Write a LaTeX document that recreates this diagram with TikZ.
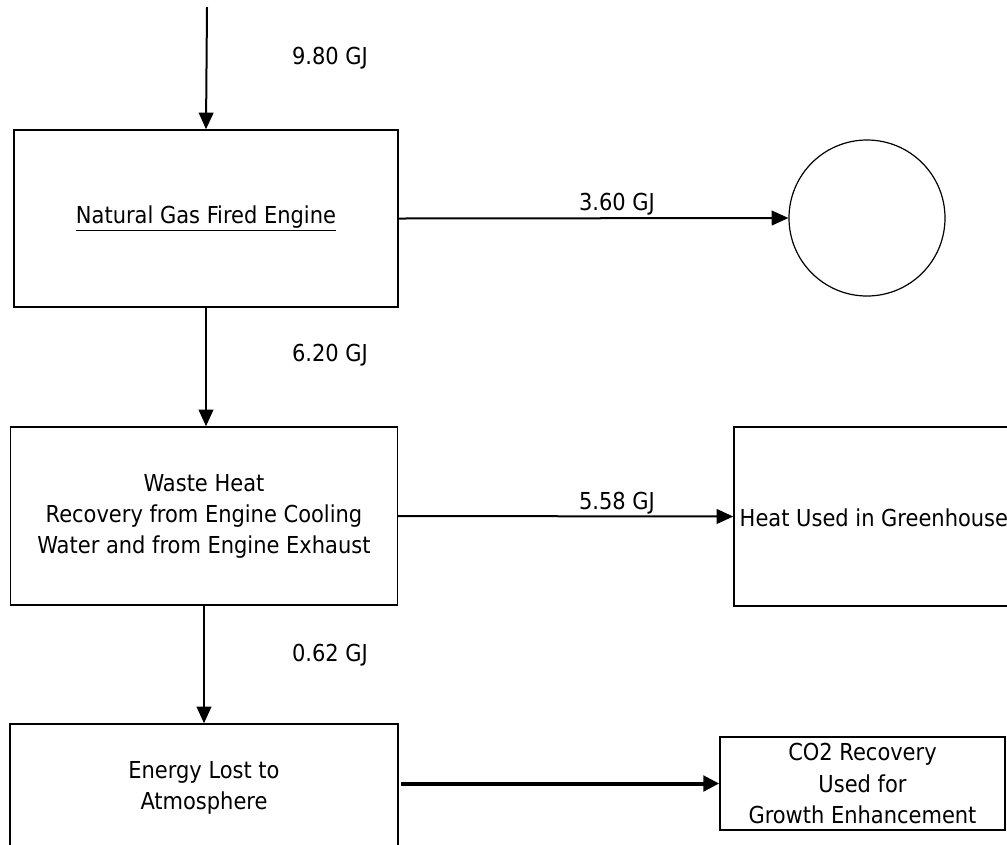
\documentclass[tikz,border=0pt]{standalone}
\usepackage{fontspec}
\setmainfont{DejaVu Sans Condensed}
\usepackage{tikz}
\usepackage{xcolor}
\usetikzlibrary{arrows.meta,positioning,calc}
\definecolor{ink}{HTML}{000000}
\tikzset{
  unit/.style={draw=ink, fill=white, line width=1.1pt, align=center,
               inner sep=0pt, font=\fontsize{17.5}{23.3}\selectfont},
  flow/.style={-{Triangle[length=12.5pt,width=11pt]}, line width=1.5pt, draw=ink},
  bigflow/.style={-{Triangle[length=12pt,width=11.5pt]}, line width=3pt, draw=ink},
  flowlbl/.style={font=\fontsize{17.5}{20}\selectfont, inner sep=0pt}
}
\begin{document}
\begin{tikzpicture}[x=0.75pt,y=-0.75pt]
        \useasboundingbox (0,0) rectangle (1007,844);
        \clip (0,0) rectangle (1007,844);

        % engine and shaft work
        \coordinate (feed) at (207,7);
        \node[unit,minimum width=288pt,minimum height=132.75pt] (engine) at (206,218.5)
          {\underline{Natural Gas Fired Engine}};
        \node[draw=ink,line width=0.9pt,circle,minimum size=117pt,inner sep=0pt] (power) at (867,218) {};

        % heat recovery
        \node[unit,minimum width=290.25pt,minimum height=133.5pt] (recov) at (204,516)
          {Waste Heat\\Recovery from Engine Cooling\\Water and from Engine Exhaust};
        \node[unit,minimum width=217.5pt,minimum height=134.25pt] (house) at (879,516.5) {};
        \node[unit,draw=none,fill=none,anchor=west] (houselbl) at (739,518) {Heat Used in Greenhouse};

        % losses and CO2
        \node[unit,minimum width=291pt,minimum height=96pt] (lost) at (204,788)
          {Energy Lost to\\Atmosphere};
        \node[unit,minimum width=213.75pt,minimum height=69.75pt] (co2) at (862.5,783.5)
          {CO2 Recovery\\Used for\\Growth Enhancement};

        % flows
        \draw[flow] (feed) -- (engine.north);
        \draw[flow] (engine.east) -- (power.west);
        \draw[flow] (engine.south) -- (engine.south |- recov.north);
        \draw[flow] (recov.east) -- (house.west);
        \draw[flow] (recov.south) -- (recov.south |- lost.north);
        \draw[bigflow,shorten <=2] (lost.east |- co2.west) -- (co2.west);

        % energy labels
        \node[flowlbl] (e1) at (330,58) {9.80 GJ};
        \node[flowlbl] (e2) at (617,204) {3.60 GJ};
        \node[flowlbl] (e3) at (330,355) {6.20 GJ};
        \node[flowlbl] (e4) at (617,503) {5.58 GJ};
        \node[flowlbl] (e5) at (330,655) {0.62 GJ};
      \end{tikzpicture}
\end{document}
